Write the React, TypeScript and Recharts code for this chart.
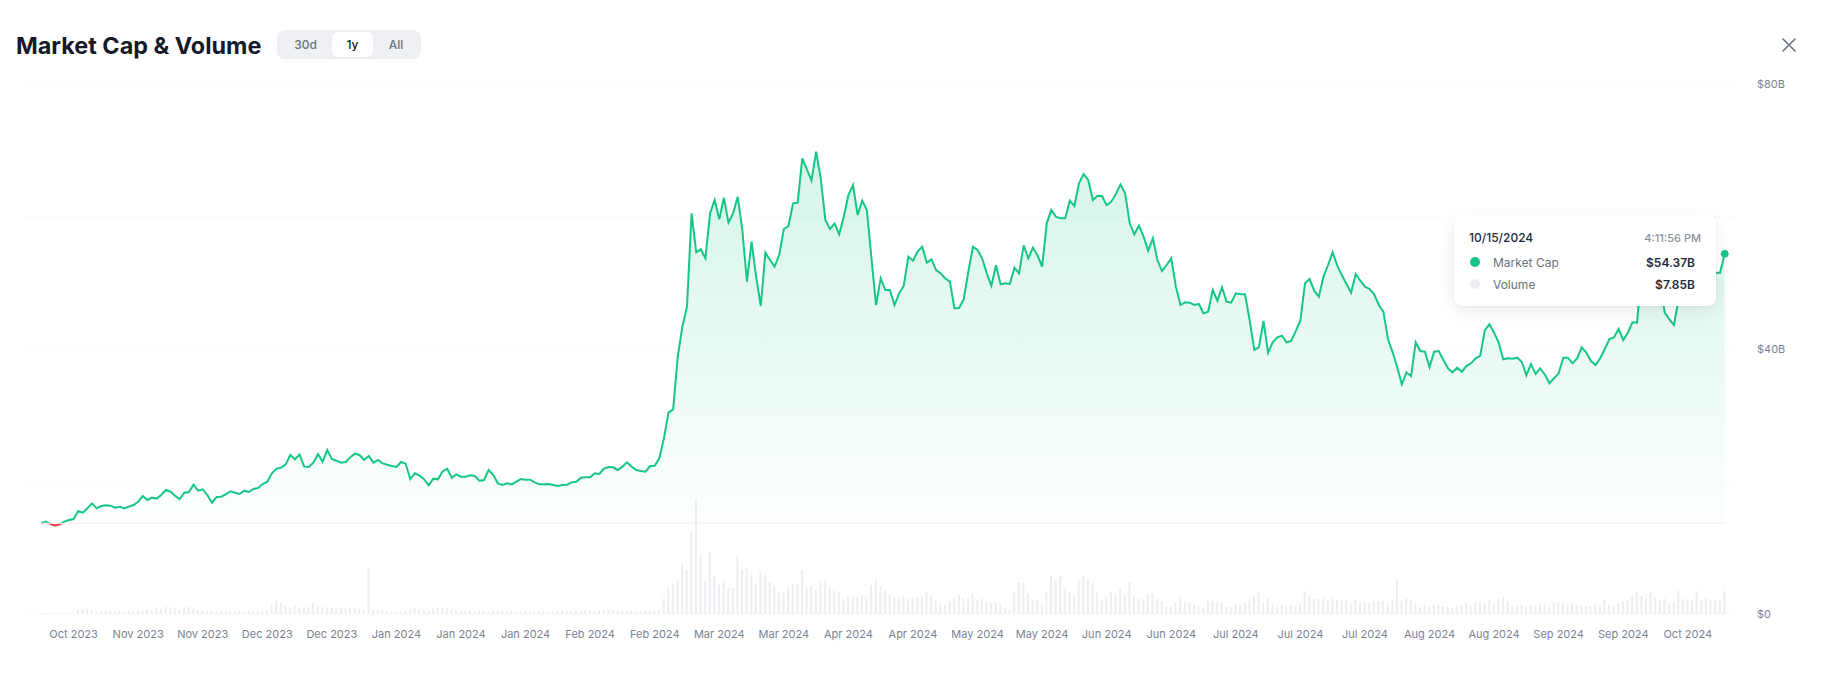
import {
  ComposedChart,
  Area,
  Bar,
  XAxis,
  YAxis,
  CartesianGrid,
  Tooltip,
  ReferenceLine,
} from "recharts";

const FONT = "Inter, 'Noto Sans', sans-serif";
const GREEN = "#16c784";
const RED = "#ea3943";

// one point per day, 2023-10-16 .. 2024-10-15
const START = { y: 2023, m: 9, d: 16 };
const MONTHS = ["Jan", "Feb", "Mar", "Apr", "May", "Jun", "Jul", "Aug", "Sep", "Oct", "Nov", "Dec"];

// market cap, $B
const MARKET_CAP = [
  13.69, 13.94, 13.58, 13.38, 13.53, 13.94, 14.19, 14.34, 15.55, 15.29,
  15.95, 16.7, 15.95, 16.3, 16.4, 16.35, 16.05, 16.2, 15.95, 16.2,
  16.45, 16.95, 17.81, 17.21, 17.56, 17.41, 17.96, 18.72, 18.46, 17.86,
  17.36, 18.31, 18.41, 19.52, 18.61, 18.82, 17.96, 16.8, 17.66, 17.71,
  18.06, 18.52, 18.31, 18.11, 18.61, 18.41, 18.87, 19.02, 19.62, 19.97,
  21.23, 21.94, 22.09, 22.59, 24.0, 23.35, 24.05, 22.24, 22.19, 22.84,
  24.15, 22.99, 24.75, 23.4, 23.14, 22.84, 22.94, 23.65, 24.2, 24.0,
  23.25, 23.85, 22.84, 23.25, 22.74, 22.54, 22.34, 22.19, 22.94, 22.69,
  20.38, 21.23, 20.88, 20.33, 19.42, 20.43, 20.33, 21.53, 21.94, 20.58,
  21.08, 20.73, 20.73, 20.93, 20.83, 20.13, 20.23, 21.74, 20.98, 19.72,
  19.47, 19.72, 19.57, 19.97, 20.38, 20.28, 20.28, 19.87, 19.57, 19.57,
  19.62, 19.47, 19.32, 19.47, 19.52, 19.87, 19.97, 20.58, 20.63, 20.63,
  21.23, 21.13, 21.94, 22.19, 22.14, 21.74, 22.24, 22.89, 22.24, 21.74,
  21.58, 21.48, 22.34, 22.39, 23.5, 26.52, 30.39, 30.89, 38.84, 43.37,
  46.39, 60.48, 54.59, 55.05, 53.69, 60.48, 62.49, 59.57, 62.84, 59.07,
  60.48, 62.99, 57.96, 50.16, 56.2, 50.92, 46.49, 54.54, 53.43, 52.43,
  54.19, 58.11, 58.56, 61.98, 62.09, 68.78, 67.12, 65.41, 69.79, 65.76,
  59.47, 58.11, 58.97, 57.31, 59.97, 63.24, 64.75, 60.23, 62.39, 60.98,
  53.69, 46.64, 50.66, 48.9, 48.9, 46.64, 48.4, 49.56, 53.94, 53.33,
  54.69, 55.45, 53.03, 53.53, 51.92, 51.42, 50.66, 50.16, 46.14, 46.19,
  47.5, 51.67, 55.45, 54.94, 53.69, 51.42, 49.56, 52.63, 49.76, 49.92,
  49.82, 52.27, 51.42, 55.65, 53.69, 55.29, 54.14, 52.43, 58.97, 60.98,
  59.97, 59.72, 59.72, 62.39, 61.58, 65.01, 66.41, 65.51, 62.49, 63.14,
  63.09, 61.69, 62.24, 63.4, 64.85, 63.5, 58.97, 57.31, 58.62, 56.96,
  54.84, 56.7, 53.43, 51.77, 52.68, 53.69, 49.41, 46.64, 47.04, 46.99,
  46.64, 46.79, 45.38, 45.63, 48.9, 47.3, 49.31, 47.15, 46.99, 48.4,
  48.25, 48.25, 44.38, 39.85, 40.25, 44.23, 39.45, 41.01, 41.76, 42.01,
  41.01, 41.21, 42.7, 44.3, 49.92, 50.56, 48.8, 47.9, 50.92, 52.68,
  54.59, 52.58, 51.12, 49.82, 48.5, 51.32, 50.31, 49.41, 49.06, 48.25,
  46.64, 45.63, 41.46, 39.5, 37.24, 34.67, 36.48, 35.92, 41.01, 39.7,
  39.6, 37.24, 39.6, 39.7, 38.34, 37.09, 36.48, 37.18, 36.57, 37.43,
  37.84, 38.59, 38.99, 42.86, 43.73, 42.46, 40.95, 38.44, 38.59, 38.54,
  38.69, 38.08, 36.03, 37.74, 36.23, 37.09, 36.13, 34.82, 35.58, 36.33,
  38.69, 38.69, 37.84, 38.59, 40.25, 39.45, 38.19, 37.58, 38.59, 40.0,
  41.51, 41.76, 43.02, 41.36, 42.46, 44.03, 43.98, 52.0, 55.0, 56.0,
  53.0, 50.0, 45.48, 44.48, 43.62, 47.5, 49.5, 51.0, 52.5, 53.0,
  54.0, 53.5, 52.5, 51.5, 51.52, 54.37,
];

// 24h volume, $B
const VOLUME = [
  0.2, 0.2, 0.2, 0.2, 0.2, 0.2, 0.2, 0.2, 1.4, 1.6,
  1.8, 1.5, 0.9, 0.6, 0.9, 1.0, 0.8, 1.1, 0.9, 1.0,
  0.8, 1.2, 1.0, 1.6, 1.2, 2.2, 1.8, 2.6, 2.0, 2.4,
  1.7, 2.3, 2.5, 1.9, 1.4, 1.2, 1.0, 1.1, 0.8, 0.9,
  0.7, 1.0, 0.8, 1.0, 0.9, 1.1, 0.8, 0.7, 1.0, 1.3,
  3.5, 4.7, 3.7, 2.8, 2.2, 3.1, 1.9, 2.6, 2.2, 3.8,
  2.8, 2.4, 2.1, 2.3, 1.8, 2.2, 1.9, 2.0, 2.4, 1.8,
  1.5, 15.6, 1.4, 1.3, 1.2, 0.9, 0.6, 0.7, 0.8, 1.1,
  1.6, 2.0, 1.8, 1.5, 1.1, 1.9, 2.3, 2.2, 2.0, 1.6,
  1.3, 1.1, 1.0, 1.2, 0.9, 1.0, 1.1, 0.8, 1.2, 1.3,
  1.0, 0.9, 1.1, 0.8, 0.9, 1.0, 0.7, 0.8, 0.9, 1.0,
  0.8, 0.7, 0.9, 1.1, 1.0, 0.9, 1.2, 1.1, 1.3, 1.2,
  1.0, 1.3, 1.6, 1.5, 1.4, 1.2, 1.1, 1.0, 1.2, 0.9,
  1.0, 1.1, 0.9, 1.2, 1.4, 5.3, 9.3, 10.2, 11.0, 16.7,
  15.0, 28.1, 39.1, 19.8, 11.0, 20.7, 12.7, 9.9, 11.6, 8.8,
  8.8, 19.8, 15.0, 15.6, 13.3, 9.9, 14.5, 13.3, 10.8, 9.6,
  7.6, 7.1, 9.3, 9.9, 10.5, 15.0, 9.1, 9.6, 8.2, 10.7,
  11.4, 9.1, 8.0, 7.3, 5.1, 5.9, 5.9, 5.9, 6.3, 5.3,
  9.8, 12.0, 9.6, 8.2, 6.5, 5.9, 5.3, 6.1, 5.3, 5.6,
  5.9, 5.9, 7.4, 6.3, 4.4, 3.6, 3.1, 4.4, 5.3, 6.5,
  5.3, 5.3, 7.1, 4.8, 5.3, 4.2, 3.9, 3.9, 3.6, 1.9,
  1.4, 7.4, 10.8, 10.5, 7.1, 5.0, 4.6, 3.6, 7.6, 13.0,
  11.6, 13.0, 8.8, 7.4, 5.9, 11.6, 13.0, 11.8, 10.5, 7.6,
  5.0, 5.6, 7.6, 6.5, 8.8, 6.7, 10.8, 5.9, 5.0, 5.0,
  6.7, 7.1, 5.0, 4.4, 2.5, 2.5, 3.9, 5.9, 3.9, 3.9,
  3.1, 2.7, 1.9, 4.4, 4.4, 3.9, 3.6, 2.5, 2.5, 3.1,
  3.1, 3.9, 4.4, 6.1, 7.1, 3.9, 5.3, 3.4, 2.5, 3.1,
  2.5, 3.1, 2.5, 3.5, 7.9, 5.9, 5.3, 5.3, 5.3, 4.8,
  5.3, 4.8, 4.4, 4.8, 3.6, 4.8, 3.9, 3.9, 3.9, 4.2,
  4.4, 4.4, 3.9, 4.8, 11.8, 4.4, 5.3, 4.8, 3.6, 2.5,
  3.1, 2.5, 3.1, 3.1, 2.5, 2.5, 1.9, 2.5, 3.1, 3.6,
  2.5, 4.2, 3.9, 3.6, 4.8, 3.6, 5.0, 5.9, 4.4, 2.5,
  2.7, 3.1, 2.5, 3.1, 2.5, 3.6, 3.6, 2.5, 3.6, 3.9,
  3.6, 3.1, 3.6, 3.1, 3.1, 2.7, 2.7, 3.6, 3.1, 4.8,
  3.1, 2.5, 3.6, 4.4, 4.8, 5.9, 7.6, 6.1, 5.3, 7.6,
  5.3, 4.8, 5.3, 3.6, 4.2, 7.9, 5.3, 4.8, 4.8, 7.9,
  4.8, 5.3, 4.8, 4.8, 4.8, 7.85,
];

// dates that get an x-axis label
const TICK_DATES = [
  "2023-10-23", "2023-11-06", "2023-11-20", "2023-12-04", "2023-12-18",
  "2024-01-01", "2024-01-15", "2024-01-29", "2024-02-12", "2024-02-26",
  "2024-03-11", "2024-03-25", "2024-04-08", "2024-04-22", "2024-05-06",
  "2024-05-20", "2024-06-03", "2024-06-17", "2024-07-01", "2024-07-15",
  "2024-07-29", "2024-08-12", "2024-08-26", "2024-09-09", "2024-09-23",
  "2024-10-07",
];

const Y_TICKS = [0, 20, 40, 60, 80];
const Y_LABELS: Record<number, string> = { 0: "$0", 40: "$40B", 80: "$80B" };
const RANGES = ["30d", "1y", "All"];
const ACTIVE_RANGE = "1y";
const TOOLTIP_TIME = "4:11:56 PM";

const dayKey = (i: number) =>
  new Date(Date.UTC(START.y, START.m, START.d + i)).toISOString().slice(0, 10);

const data = MARKET_CAP.map((mcap, i) => ({
  date: dayKey(i),
  mcap,
  volume: VOLUME[i],
}));

const tickSet = new Set(TICK_DATES);
const monthLabel = (key: string) => {
  if (!tickSet.has(key)) return "";
  const [y, m] = key.split("-");
  return `${MONTHS[Number(m) - 1]} ${y}`;
};
const usDate = (key: string) => {
  const [y, m, d] = key.split("-");
  return `${Number(m)}/${Number(d)}/${y}`;
};

const capMax = Math.max(...MARKET_CAP);
const capMin = Math.min(...MARKET_CAP);
// stroke turns red below the opening value
const split = (capMax - MARKET_CAP[0]) / (capMax - capMin);

function ChartTooltip({ active, payload }: any) {
  if (!active || !payload || !payload.length) return null;
  const row = payload[0].payload;
  const rows = [
    { name: "Market Cap", value: row.mcap, color: GREEN },
    { name: "Volume", value: row.volume, color: "#eceef3" },
  ];
  return (
    <div
      style={{
        position: "relative",
        width: 262,
        height: 91,
        boxSizing: "border-box",
        background: "#fff",
        borderRadius: 8,
        boxShadow: "0 6px 20px rgba(15, 23, 42, 0.08), 0 1px 3px rgba(15, 23, 42, 0.05)",
        fontFamily: FONT,
      }}
    >
      <span style={{ position: "absolute", left: 15, top: 15, fontSize: 12, lineHeight: "16px", fontWeight: 500, color: "#1f2937" }}>
        {usDate(row.date)}
      </span>
      <span style={{ position: "absolute", right: 15, top: 15, fontSize: 11, lineHeight: "16px", fontWeight: 500, color: "#8b93a1" }}>
        {TOOLTIP_TIME}
      </span>
      {rows.map((r, i) => (
        <div key={r.name} style={{ position: "absolute", left: 16, right: 21, top: 39 + i * 22, height: 16, display: "flex", alignItems: "center" }}>
          <span style={{ width: 10, height: 10, borderRadius: 5, background: r.color }} />
          <span style={{ marginLeft: 13, fontSize: 12, color: "#6b7280", flex: 1 }}>{r.name}</span>
          <span style={{ fontSize: 12, fontWeight: 600, color: "#1f2937" }}>${r.value.toFixed(2)}B</span>
        </div>
      ))}
    </div>
  );
}

export default function App() {
  return (
    <div style={{ position: "absolute", left: 0, top: 0, width: 1822, height: 678, background: "#fff", fontFamily: FONT }}>
      {/* Header */}
      <div style={{ position: "absolute", left: 16, top: 30, height: 30, display: "flex", alignItems: "center", fontSize: 23.4, fontWeight: 700, color: "#141a29" }}>
        Market Cap &amp; Volume
      </div>
      <div style={{ position: "absolute", left: 277, top: 30, width: 144, height: 29, boxSizing: "border-box", padding: 2, background: "#eef0f4", borderRadius: 8, display: "flex" }}>
        {RANGES.map((r, i) => (
          <div
            key={r}
            style={{
              width: [53, 41, 46][i],
              height: 25,
              display: "flex",
              alignItems: "center",
              justifyContent: "center",
              borderRadius: 6,
              fontSize: 12,
              fontWeight: 500,
              background: r === ACTIVE_RANGE ? "#fff" : "transparent",
              color: r === ACTIVE_RANGE ? "#111827" : "#6b7280",
            }}
          >
            {r}
          </div>
        ))}
      </div>
      <svg style={{ position: "absolute", left: 1782, top: 38 }} width={14} height={14}>
        <path d="M1 1 L13 13 M13 1 L1 13" stroke="#6b7280" strokeWidth={1.6} strokeLinecap="round" />
      </svg>

      {/* Chart */}
      <div style={{ position: "absolute", left: 0, top: 60 }}>
        <ComposedChart width={1822} height={618} data={data} margin={{ top: 24, right: 22, left: 26, bottom: 34 }}>
          <defs>
            <linearGradient id="capFill" x1="0" y1="0" x2="0" y2="1">
              <stop offset="0%" stopColor={GREEN} stopOpacity={0.3} />
              <stop offset="100%" stopColor={GREEN} stopOpacity={0.02} />
            </linearGradient>
            <linearGradient id="capStroke" x1="0" y1="0" x2="0" y2="1">
              <stop offset={split} stopColor={GREEN} />
              <stop offset={split} stopColor={RED} />
            </linearGradient>
          </defs>
          <CartesianGrid vertical={false} stroke="#e8eaee" strokeDasharray="1 3" />
          <XAxis
            dataKey="date"
            interval={0}
            tickFormatter={monthLabel}
            axisLine={false}
            tickLine={false}
            tickMargin={10}
            padding={{ left: 13, right: 13 }}
            tick={{ fill: "#7a8394", fontSize: 11, fontFamily: FONT }}
          />
          <YAxis
            orientation="right"
            domain={[0, 80]}
            ticks={Y_TICKS}
            tickFormatter={(v: number) => Y_LABELS[v] ?? ""}
            axisLine={false}
            tickLine={false}
            tickMargin={11}
            width={60}
            tick={{ fill: "#7a8394", fontSize: 11, fontFamily: FONT }}
          />
          <YAxis yAxisId="vol" hide domain={[0, 180]} />
          <Bar dataKey="volume" yAxisId="vol" fill="#eceef2" barSize={2} isAnimationActive={false} />
          <ReferenceLine
            segment={[
              { x: data[0].date, y: MARKET_CAP[0] },
              { x: data[data.length - 1].date, y: MARKET_CAP[0] },
            ]}
            stroke="#fbecef"
          />
          <Area
            type="linear"
            dataKey="mcap"
            stroke="url(#capStroke)"
            strokeWidth={2}
            fill="url(#capFill)"
            baseValue={MARKET_CAP[0]}
            dot={false}
            activeDot={{ r: 3.5, fill: GREEN, stroke: GREEN, strokeWidth: 1 }}
            isAnimationActive={false}
          />
          <Tooltip
            defaultIndex={data.length - 1}
            content={<ChartTooltip />}
            position={{ x: 1454, y: 155 }}
            cursor={false}
            isAnimationActive={false}
          />
        </ComposedChart>
      </div>
    </div>
  );
}
